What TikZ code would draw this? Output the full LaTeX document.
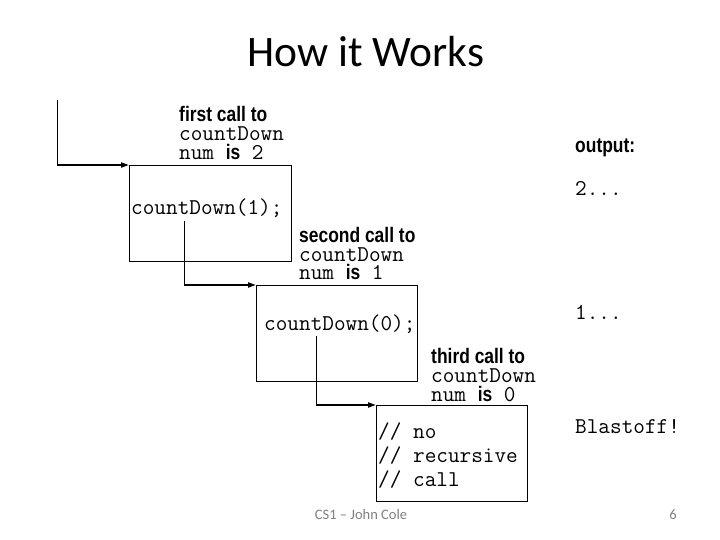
\documentclass[tikz,border=0pt]{standalone}
\usepackage{fontspec}
\setmainfont{Liberation Sans}
\newfontfamily\narrowf[FakeStretch=0.83]{Liberation Sans}
\newfontfamily\calf{Carlito}
\usetikzlibrary{arrows.meta}
\newcommand{\lblfont}{\narrowf\bfseries\fontsize{21bp}{24bp}\selectfont}
\newcommand{\codefont}{\ttfamily\mdseries\fontsize{22.6bp}{26bp}\selectfont}
\newcommand{\isword}{{\lblfont is}}
\newcommand{\linestack}[2]{\vtop{\baselineskip=#1\lineskiplimit=-\maxdimen\lineskip=0pt #2}}
\tikzset{
  framebox/.style={draw=black,line width=0.8bp,minimum width=#1,inner sep=0pt,anchor=north west},
  lbl/.style={anchor=base west,inner sep=0pt,font=\lblfont},
  code/.style={anchor=base west,inner sep=0pt,font=\codefont},
  thinline/.style={line width=0.9bp},
  callarrow/.style={line width=1.8bp,-{Triangle[length=8bp,width=5bp]}},
  foot/.style={inner sep=0pt,text=black!50,font=\calf\fontsize{14.5bp}{16bp}\selectfont}
}
\begin{document}
\begin{tikzpicture}[x=1bp,y=-1bp]
\useasboundingbox (0,0) rectangle (720,540);
% title
\node[inner sep=0pt,font=\calf\fontsize{43.5bp}{50bp}\selectfont] (title) at (366,52) {How it Works};
% boxes
\node[framebox=162bp,minimum height=96bp] (b1) at (129,165) {};
\node[framebox=161bp,minimum height=96bp] (b2) at (256,285) {};
\node[framebox=151bp,minimum height=96bp] (b3) at (376,405) {};
% call labels
\node[lbl] (l1) at (179,122) {\linestack{19bp}{\hbox{\lblfont first call to}\hbox{\codefont countDown}\hbox{\codefont num \isword{} 2}}};
\node[code] (call1) at (131,215) {countDown(1);};
\node[lbl] (l2) at (299,243) {\linestack{18.5bp}{\hbox{\lblfont second call to}\hbox{\codefont countDown}\hbox{\codefont num \isword{} 1}}};
\node[code] (call2) at (264,330) {countDown(0);};
\node[lbl] (l3) at (431,363) {\linestack{19bp}{\hbox{\lblfont third call to}\hbox{\codefont countDown}\hbox{\codefont num \isword{} 0}}};
\node[code] (rem) at (378,438) {\linestack{24bp}{\hbox{// no}\hbox{// recursive}\hbox{// call}}};
% output column
\node[lbl] (out) at (575,153) {output:};
\node[code] (o2) at (575,196) {2...};
\node[code] (o1) at (575,319) {1...};
\node[code] (o0) at (575,433) {Blastoff!};
% connectors
\coordinate (s0) at (57,100);
\coordinate (k0) at (57,165);
\draw[thinline] (s0) -- (k0);
\draw[callarrow] (k0) -- (b1.north west);
\coordinate (s1) at (184,221);
\coordinate (k1) at (184,285);
\draw[thinline] (s1) -- (k1);
\draw[callarrow] (k1) -- (b2.north west);
\coordinate (s2) at (316,336);
\coordinate (k2) at (316,405);
\draw[thinline] (s2) -- (k2);
\draw[callarrow] (k2) -- (b3.north west);
% footer
\node[foot] (footer) at (361,515) {CS1 – John Cole};
\node[foot] (page) at (673,515) {6};
\end{tikzpicture}
\end{document}
